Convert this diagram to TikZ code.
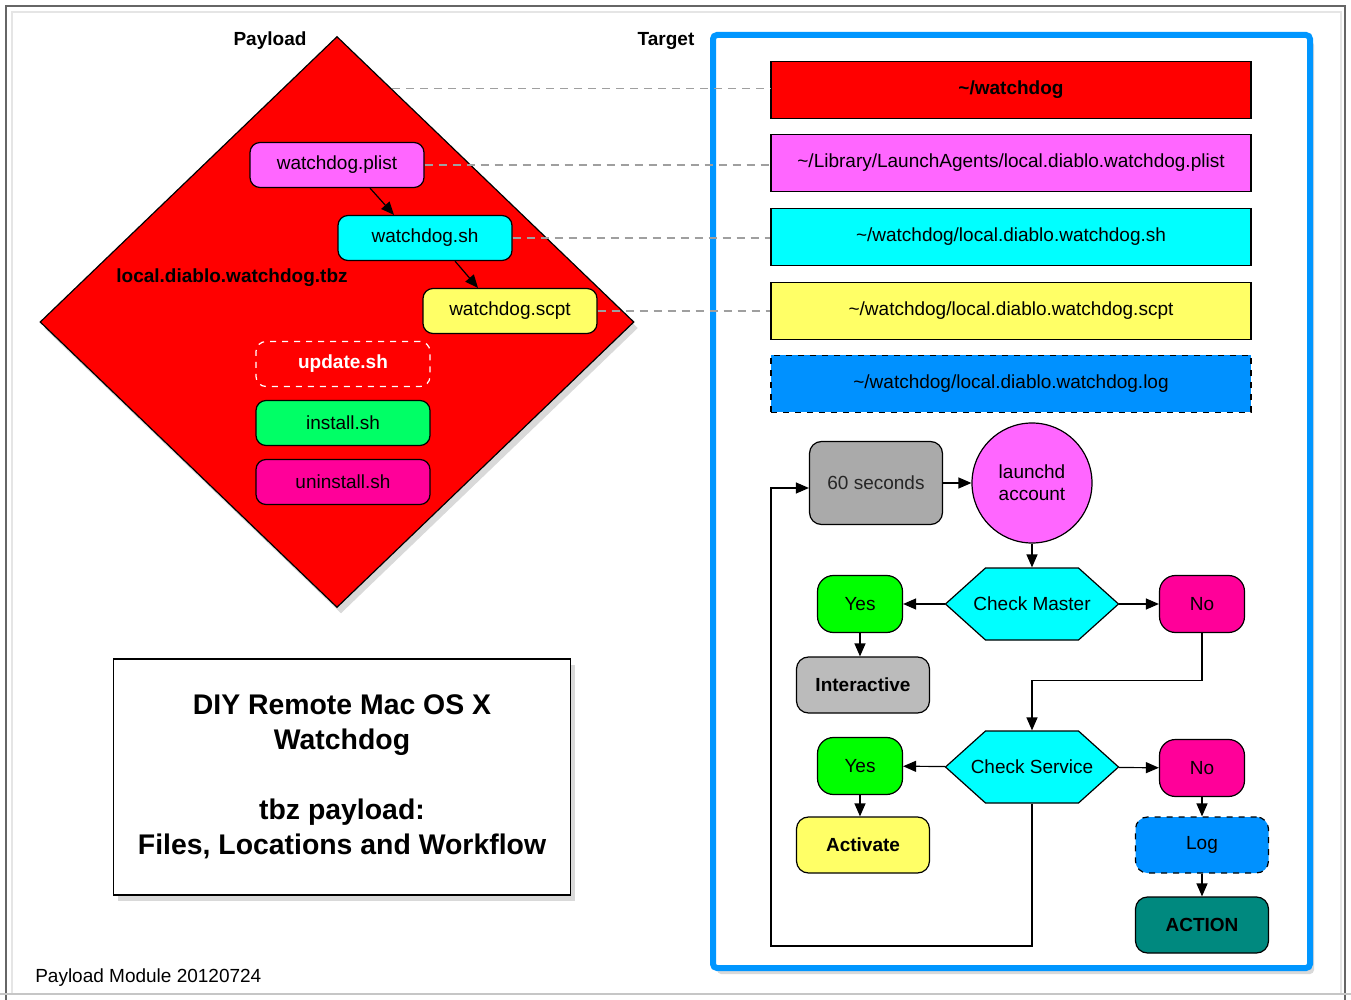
\documentclass[tikz,border=0pt]{standalone}
\usepackage{fontspec}
\setmainfont{Liberation Sans}
\usetikzlibrary{shapes.geometric,shadows,calc,arrows.meta}

\definecolor{pinkbox}{HTML}{FF66FF}
\definecolor{cyanbox}{HTML}{00FFFF}
\definecolor{yellowbox}{HTML}{FFFF66}
\definecolor{mintbox}{HTML}{00FF66}
\definecolor{yesgreen}{HTML}{00FF00}
\definecolor{magbox}{HTML}{FF0099}
\definecolor{logblue}{HTML}{0091FF}
\definecolor{frameblue}{HTML}{0096FF}
\definecolor{tealbox}{HTML}{00897F}
\definecolor{waitgray}{HTML}{AAAAAA}
\definecolor{askgray}{HTML}{BBBBBB}
\newcommand\lbl{\fontsize{9.5}{11}\selectfont}

\begin{document}
\begin{tikzpicture}[x=0.5pt,y=-0.5pt,font=\lbl,line width=0.6pt,>={Triangle[length=6.5pt,width=5.5pt]},
    payfile/.style={draw, rounded corners=5pt, minimum width=87pt, minimum height=22.5pt, inner sep=0pt},
    dest/.style={draw, minimum width=240pt, minimum height=28.5pt, inner sep=0pt},
    link/.style={gray!75, dash pattern=on 4pt off 3pt},
    task/.style={draw, rounded corners=6pt, minimum width=66.5pt, minimum height=28pt, inner sep=0pt},
    answer/.style={draw, rounded corners=8pt, minimum width=42.5pt, minimum height=28.5pt, inner sep=0pt},
    decision/.style={minimum width=86.5pt, minimum height=36pt, inner sep=0pt},
    softshadow/.style={drop shadow={shadow xshift=2pt, shadow yshift=-3pt, opacity=0.3}}]
    \useasboundingbox (0,0) rectangle (1351,1000);
    % page edges
    \draw[gray!80!black] (6,1000) -- (6,6) -- (1345,6) -- (1345,1000);
    \draw[gray!20] (12,993) -- (12,12) -- (1341,12) -- (1341,993);
    \draw[gray!45] (0,994) -- (1351,994);

    % payload side
    \node[diamond, draw, fill=red, minimum width=297pt, minimum height=285.5pt, inner sep=0pt, softshadow] (tbz) at (337,322) {};
    \node[font=\lbl\bfseries] (payload) at (270,41) {Payload};
    \node[font=\lbl\bfseries] (target) at (666,41) {Target};
    \node[font=\lbl\bfseries] (tbzname) at (232,278) {local.diablo.watchdog.tbz};
    \node[payfile, fill=pinkbox] (plist) at (337,165) {watchdog.plist};
    \node[payfile, fill=cyanbox] (sh) at (425,238) {watchdog.sh};
    \node[payfile, fill=yellowbox] (scpt) at (510,311) {watchdog.scpt};
    \node[payfile, draw=white, dashed, text=white, font=\lbl\bfseries] (update) at (343,364) {update.sh};
    \node[payfile, fill=mintbox] (install) at (343,423) {install.sh};
    \node[payfile, fill=magbox] (uninstall) at (343,482) {uninstall.sh};
    \draw[->] ([xshift=16.5pt]plist.south) -- ([xshift=-15.5pt]sh.north);
    \draw[->] ([xshift=15pt]sh.south) -- ([xshift=-16pt]scpt.north);

    % target side
    \draw[line width=3pt, frameblue, fill=white, rounded corners=2pt, softshadow] (713,35) rectangle (1310,968);
    \node[dest, fill=red, font=\lbl\bfseries] (dogdir) at (1011,90) {\textasciitilde/watchdog};
    \node[dest, fill=pinkbox] (plistdir) at (1011,163) {\textasciitilde/Library/LaunchAgents/local.diablo.watchdog.plist};
    \node[dest, fill=cyanbox] (shdir) at (1011,237) {\textasciitilde/watchdog/local.diablo.watchdog.sh};
    \node[dest, fill=yellowbox] (scptdir) at (1011,311) {\textasciitilde/watchdog/local.diablo.watchdog.scpt};
    \node[dest, fill=logblue, dashed] (logdir) at (1011,384) {\textasciitilde/watchdog/local.diablo.watchdog.log};

    \coordinate (rim) at ($(tbz.north)!0.185!(tbz.east)$);
    \draw[link] (rim) -- (rim -| dogdir.west);
    \draw[link] (plist.east) -- (plist.east -| plistdir.west);
    \draw[link] (sh.east) -- (sh.east -| shdir.west);
    \draw[link] (scpt.east) -- (scpt.east -| scptdir.west);

    % workflow
    \node[task, fill=waitgray, text=black!85, minimum height=41.5pt] (sixty) at (876,483) {60 seconds};
    \node[circle, draw, fill=pinkbox, minimum size=60pt, inner sep=0pt, align=center] (launchd) at (1032,483) {launchd\\account};
    \foreach \name/\y/\txt in {master/604/Check Master, service/767/Check Service}{
        \draw[fill=cyanbox] (945.5,\y) -- (985.5,\y-36) -- (1078.5,\y-36) -- (1118.5,\y) -- (1078.5,\y+36) -- (985.5,\y+36) -- cycle; % hexagon
        \node[decision] (\name) at (1032,\y) {\txt};
    }
    \node[answer, fill=yesgreen] (yes1) at (860,604) {Yes};
    \node[answer, fill=magbox] (no1) at (1202,604) {No};
    \node[task, fill=askgray, font=\lbl\bfseries] (interactive) at (863,685) {Interactive};
    \node[answer, fill=yesgreen] (yes2) at (860,766) {Yes};
    \node[answer, fill=magbox] (no2) at (1202,768) {No};
    \node[task, fill=yellowbox, font=\lbl\bfseries] (activate) at (863,845) {Activate};
    \node[task, fill=logblue, dashed] (log) at (1202,845) {Log};
    \node[task, fill=tealbox, font=\lbl\bfseries] (action) at (1202,925) {ACTION};
    \coordinate (back) at (771,946);

    \draw[->] (sixty) -- (launchd);
    \draw[->] (launchd) -- (master);
    \draw[->] (master) -- (yes1);
    \draw[->] (master) -- (no1);
    \draw[->] (yes1.south) -- (yes1.south |- interactive.north);
    \draw[->] (no1.south) -- ++(0,47) -| (service.north);
    \draw[->] (service) -- (yes2);
    \draw[->] (service) -- (no2);
    \draw[->] (yes2.south) -- (yes2.south |- activate.north);
    \draw[->] (no2) -- (log);
    \draw[->] (log) -- (action);
    \draw[->] (service.south) |- (back) |- ([yshift=-2.5pt]sixty.west);

    % title card
    \node[draw, fill=white, minimum width=228.5pt, minimum height=118pt, align=center,
        font=\fontsize{14.2}{17.5}\selectfont\bfseries, softshadow] (title) at (342,777)
        {DIY Remote Mac OS X\\Watchdog\\[17.5pt]tbz payload:\\Files, Locations and Workflow};
    \node[anchor=west] (module) at (28,978) {Payload Module 20120724};
\end{tikzpicture}
\end{document}
